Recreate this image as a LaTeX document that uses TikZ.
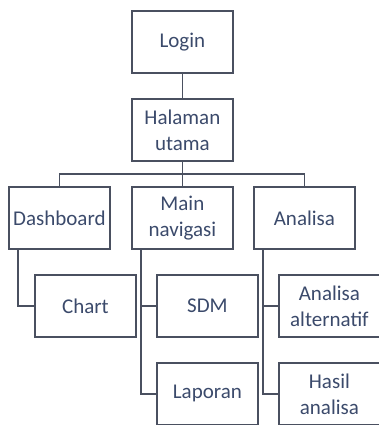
\documentclass[tikz,border=0pt]{standalone}
\usepackage{fontspec}
\setmainfont{Carlito}
\definecolor{txt}{HTML}{3B4A6B}
\definecolor{ln}{HTML}{4A5060}
\begin{document}
\begin{tikzpicture}[x=1pt,y=-1pt,
  box/.style={draw=ln,line width=1.8pt,minimum width=101pt,minimum height=62pt,inner sep=0pt,
    text=txt,font=\fontsize{21}{26}\selectfont,align=center,anchor=north west},
  con/.style={draw=ln,line width=1.8pt}]
\useasboundingbox (0,0) rectangle (378,425);
\node[box] (login) at (131,10) {Login};
\node[box] (hal) at (131,98) {Halaman\\utama};
\node[box] (dash) at (8,186) {Dashboard};
\node[box] (nav) at (131,186) {Main\\navigasi};
\node[box] (ana) at (253,186) {Analisa};
\node[box] (chart) at (34,274) {Chart};
\node[box] (sdm) at (156,274) {SDM};
\node[box] (lap) at (156,362) {Laporan};
\node[box] (alt) at (278,274) {Analisa\\alternatif};
\node[box] (has) at (278,362) {Hasil\\analisa};
\coordinate (bar) at (0,174);
\draw[con] (login) -- (hal);
\draw[con] (hal.south) -- (hal.south |- bar);
\draw[con] (dash.north) -- (dash.north |- bar) -- (ana.north |- bar) -- (ana.north);
\draw[con] (nav.north) -- (nav.north |- bar);
\draw[con] ([xshift=10pt]dash.south west) |- (chart.west);
\draw[con] ([xshift=10pt]nav.south west) |- (lap.west);
\draw[con] ([xshift=10pt]nav.south west |- sdm.west) -- (sdm.west);
\draw[con] ([xshift=10pt]ana.south west) |- (has.west);
\draw[con] ([xshift=10pt]ana.south west |- alt.west) -- (alt.west);
\end{tikzpicture}
\end{document}
